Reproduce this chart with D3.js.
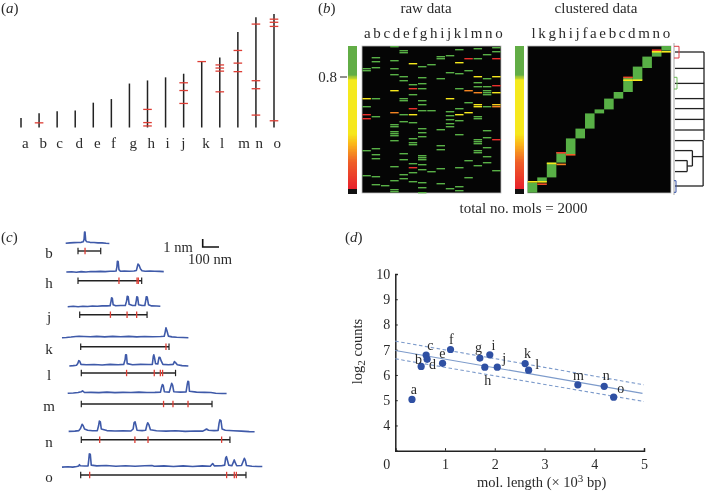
<!DOCTYPE html>
<html><head><meta charset="utf-8">
<style>
html,body{margin:0;padding:0;background:#fff}
svg{display:block;filter:blur(.35px)}
text{font-family:"Liberation Serif",serif;fill:#2a2a2a}
</style></head><body>
<svg id="c" width="705" height="494"></svg>
<script src="https://cdnjs.cloudflare.com/ajax/libs/d3/7.8.5/d3.min.js"></script>
<script>
// ---------- data ----------
const categories = ["a","b","c","d","e","f","g","h","i","j","k","l","m","n","o"];
// (a) molecule length (kb) and restriction sites
const molLengths = [.37,.55,.63,.66,.96,1.1,1.7,1.82,1.94,2.08,2.57,2.71,3.69,4.26,4.39];
const molSites = [[],[.18],[],[],[],[],[],[.7,.19,.06],[],[1.73,1.43,.93],[2.55],[2.42,2.3,2.18,1.38],[2.98,2.49,2.16],[4.0,1.81,1.5,.48],[4.19,4.07,3.91,.26]];
// (b) raw data: rows with high correlation per category
const rawHigh = [
 [11,12,30,52,64.5],
 [5.5,7.5,10.5,26,35,51,54,56,65,69],
 [69.5],
 [0,7,11,14,39,40,42.5,43.5,44.5,47,60,67,71.5,72.5],
 [2,3,15,17,26,27,34,37.5,53.5,56.5,64,66],
 [19,24,38,46,48,49,58.5,63,67.5],
 [10,15.5,18.5,21,27,29,32,41,43,45,54.5,55.5,56.5,59,61.5,68,70.5,73],
 [9,32,62.5],
 [5,6,16,41.5,49.5,51.5,61,68.5],
 [4.5,13,32.5,34.5,36.5,38.5,40,71],
 [1.5,13.5,21,31,37,44,60.5,70,72],
 [12,28,57,65.5],
 [1,6,18,20,35,36,46.5,47.5,48.5,52,53,59.5],
 [4,16,20,22,23,24,30,42,45.5,50.5,55,58],
 [0.5,2.5,62]
];
const rawLow = [[0,26,.5],[0,34,.12],[0,36,.12],[3,22,.5],[3,33,.3],[5,8.5,.5],[5,21,.15],[5,31,.12],[5,34,.55],[5,60.5,.12],[9,26,.5],[10,8,.65],[10,34,.55],[11,6,.12],[11,22,.3],[11,33,.55],[12,15,.5],[12,23,.3],[12,29,.55],[12,30,.5],[14,6,.12],[14,15,.55],[14,19.5,.12],[14,23,.55],[14,29,.4],[14,30,.3],[14,46.5,.12]];
// (b) clustered data
const clusterOrder = ["l","k","g","h","i","j","f","a","e","b","c","d","m","n","o"];
const clusterFrom = [68.3,65.7,58.3,53,46.2,41.3,33.7,31.7,26.3,23,15.7,10.3,5.3,2.3,0];
const clusterTo = [73.3,68,65.7,58.3,54,46.2,41.3,33.7,31.7,26.3,23,17,11,5.3,2.3];
const clusterLow = [[0,67.5,.5],[1,67.5,.5],[1,68.7,.2],[2,58.3,.5],[3,58.8,.3],[3,53,.15],[4,54,.25],[10,15.3,.2],[10,16.7,.55],[11,16.7,.55],[13,1.7,.15],[13,2.5,.55],[14,2.5,.55]];
// dendrogram: leaf [row, merge distance], joins [distance, row, row]
const dendroLeaves = [[3,1],[11.2,1],[18.7,1],[26.3,1],[31.3,1],[36.7,1],[42,1],[47.3,.97],[52.3,.6],[57.3,.42],[62.8,.42],[70,.97]];
const dendroStems = [[55.3,.6,.97],[60,.42,.6]];
const dendroJoins = [[1,3,47],[.97,47.3,70],[.6,52.3,60],[.42,57.3,62.8]];
// (c) traces
const traceNames = ["b","h","j","k","l","m","n","o"];
const barLengths = [142,398,421,552,589,817,929,1033];
const barSites = [[44],[256,369,377],[192,296,356],[533],[283,456,494,508],[514,573,667],[115,335,417,877],[56,912,960,973]];
const traceB = [[-77,0],[-50,.05],[-25,.08],[0,.1],[20,.12],[33,.2],[38,.5],[41,1.4],[44,1.4],[48,.35],[55,.2],[75,.12],[100,.1],[125,.05],[150,.05],[175,0],[196,-.02]];
const traceH = [[-73,0],[-40,.03],[-10,-.03],[20,.05],[50,0],[80,.07],[110,.05],[140,.08],[170,.05],[200,.1],[225,.1],[238,.12],[243,.6],[246,1.33],[251,1.3],[256,.3],[265,.1],[290,.12],[320,.1],[350,.12],[365,.2],[370,.6],[375,1],[382,.85],[390,.4],[400,.15],[420,.1],[450,.12],[480,.1],[510,.08],[536,.05]];
const traceJ = [[-75,0],[-40,.05],[-10,0],[20,.06],[50,.03],[80,.08],[110,.05],[140,.1],[170,.1],[190,.12],[196,.7],[199,1.1],[204,1.05],[209,.25],[225,.12],[255,.15],[285,.15],[293,.7],[297,1.3],[303,1.25],[309,.3],[330,.15],[348,.15],[354,.8],[357,1.25],[362,1.2],[368,.25],[390,.15],[407,.15],[413,.8],[416,1.25],[422,1.2],[430,.25],[450,.1],[480,.08],[504,.05]];
const traceK = [[-117,0],[-90,.03],[-60,.08],[-30,.15],[-10,.18],[20,.15],[60,.12],[100,.17],[150,.1],[200,.16],[250,.12],[300,.16],[350,.1],[400,.15],[450,.12],[500,.15],[522,.18],[528,.7],[533,1.25],[540,.8],[548,.2],[570,.1],[600,.05],[640,.02],[673,0]];
const traceL = [[-75,0],[-50,.05],[-30,.1],[-22,.3],[-16,.67],[-10,.6],[-2,.2],[30,.15],[80,.18],[130,.12],[180,.2],[230,.15],[265,.2],[274,.8],[277,1.4],[282,1.4],[287,.3],[320,.15],[370,.2],[420,.18],[444,.2],[450,1.2],[453,1.4],[458,1],[464,.3],[478,.25],[486,1.1],[492,1.05],[500,.6],[510,.2],[545,.15],[574,.2],[582,.55],[590,.4],[600,.15],[630,.05],[669,0]];
const traceM = [[-85,0],[-50,.03],[-20,.1],[0,.2],[8,.3],[20,.1],[60,.12],[110,.08],[160,.15],[210,.08],[260,.12],[310,.1],[360,.15],[410,.1],[460,.12],[495,.15],[502,.8],[507,1.1],[512,1],[519,.2],[550,.15],[560,.9],[565,1.25],[571,1],[578,.2],[620,.15],[655,.18],[662,1.1],[666,1.5],[671,1.45],[676,.25],[720,.15],[770,.12],[810,.1],[840,0],[880,-.02],[908,-.02]];
const traceN = [[-79,0],[-40,.03],[-15,.1],[-5,.35],[5,.9],[12,.7],[20,.3],[40,.15],[70,.08],[100,.1],[108,.7],[113,1.3],[119,1.2],[125,.3],[160,.1],[210,.05],[260,.08],[310,.05],[324,.3],[330,1.1],[336,1.2],[342,.7],[348,.15],[380,.1],[402,.15],[410,.8],[415,1.08],[422,.85],[432,.2],[470,.08],[530,.03],[590,.08],[650,0],[710,.05],[760,.03],[775,.2],[783,.3],[795,.15],[830,.1],[855,.12],[861,1],[866,1.45],[873,1.35],[880,.3],[900,.15],[950,.08],[1000,.03],[1050,-.03],[1083,-.05]];
const traceO = [[-117,-.05],[-80,0],[-50,-.05],[-25,.02],[-12,.1],[-8,.25],[-2,.12],[25,.08],[46,.1],[50,.8],[54,1.6],[60,1.55],[66,.2],[100,.1],[160,.15],[220,.05],[280,.12],[340,.05],[400,.12],[445,.15],[460,.05],[520,.1],[580,.02],[640,.1],[700,.03],[760,.1],[810,.05],[825,.4],[835,.1],[880,.12],[900,.2],[906,1.1],[911,1.25],[917,.8],[925,.2],[945,.12],[955,.6],[960,.85],[966,.5],[975,.12],[1005,.15],[1018,.8],[1023,1.05],[1029,.8],[1036,.15],[1070,.05],[1110,.02],[1135,.02]];
const allTraces = [traceB,traceH,traceJ,traceK,traceL,traceM,traceN,traceO];
// (d) scatter
const scatterLength = [.335,.52,.62,.64,.95,1.11,1.7,1.8,1.9,2.05,2.61,2.68,3.67,4.2,4.39];
const scatterCounts = [5.03,6.34,6.79,6.62,6.46,7.01,6.67,6.31,6.8,6.31,6.45,6.19,5.61,5.55,5.12];
const fitLine = [[0,6.97],[4.97,5.27]];
const fitUpper = [[0,7.34],[5,5.61]];
const fitLower = [[0,6.64],[5,4.95]];
const xTicks = [0,1,2,3,4,5];
const yTicks = [4,5,6,7,8,9,10];

// ---------- drawing ----------
const svg = d3.select("#c");
const INK="#222", RED="#dd3d34", GREEN="#58b046";
function tag(x,y,l){const t=svg.append("text").attr("x",x).attr("y",y).style("font-size","15px");
  t.append("tspan").text("(");t.append("tspan").style("font-style","italic").text(l);t.append("tspan").text(")");}
function label(x,y,s,anchor="middle",size=15){return svg.append("text").attr("x",x).attr("y",y).attr("text-anchor",anchor).style("font-size",size+"px").text(s);}
tag(1,12.5,"a");tag(318,12.5,"b");tag(1,242,"c");tag(345,242,"d");

// (a)
{
 const x=d3.scalePoint().domain(categories).range([21,274]);
 const y=d3.scaleLinear().domain([0,4.39]).range([127.5,14]);
 const xl=d3.scalePoint().domain(categories).range([25.3,277.3]);
 const nudge={c:-1.7,f:-1.7,i:-1.7,j:-4,k:.7,l:-1.3,m:2.7};
 const g=svg.append("g");
 g.selectAll("line.b").data(categories).join("line").attr("x1",d=>x(d)).attr("x2",d=>x(d))
  .attr("y1",y(0)).attr("y2",(d,i)=>y(molLengths[i])).attr("stroke",INK).attr("stroke-width",1.5);
 categories.forEach((c,i)=>{
  g.selectAll(null).data(molSites[i]).join("line").attr("x1",x(c)-4.3).attr("x2",x(c)+4.3)
   .attr("y1",d=>y(d)).attr("y2",d=>y(d)).attr("stroke",RED).attr("stroke-width",1.3);
  label(xl(c)+(nudge[c]||0),147.5,c);
 });
}

// (b)
const rows=d3.scaleLinear().domain([0,73.5]).range([46,193]);
const colour=d3.scaleLinear()
 .domain([.08,.25,.37,.434,.78,.82,1])
 .range(["#e8222c","#ef5f28","#fbb81a","#f6e71c","#f5ea1e","#62ad46","#62ad46"]);
function colorbar(x0,x1){
 const v=d3.scaleLinear().domain([1,.05]).range([46.3,192.5]);
 const g=svg.append("g").attr("shape-rendering","crispEdges");
 g.selectAll("rect").data(d3.range(1,.05,-.005)).join("rect").attr("x",x0).attr("width",x1-x0)
  .attr("y",d=>v(d)).attr("height",2).attr("fill",d=>d<.075?"#111":colour(d));
}
colorbar(348,357);colorbar(515,524);
label(337,82,"0.8","end",15);
svg.append("line").attr("x1",340).attr("x2",347).attr("y1",77).attr("y2",77).attr("stroke",INK).attr("stroke-width",1);
function heatFrame(x0,x1){
 svg.append("rect").attr("x",x0).attr("y",46).attr("width",x1-x0).attr("height",147).attr("fill","#050505").attr("stroke","#bdbdbd").attr("stroke-width",.8);
}
heatFrame(362,501);heatFrame(527.7,671);
{
 const x=d3.scaleBand().domain(categories).range([362,501]);
 const g=svg.append("g");
 categories.forEach((c,i)=>{
  g.selectAll(null).data(rawHigh[i]).join("rect").attr("x",x(c)+.4).attr("width",x.bandwidth()-.8)
   .attr("y",d=>rows(d)).attr("height",1.4).attr("fill",GREEN);
 });
 g.selectAll(null).data(rawLow).join("rect").attr("x",d=>x(categories[d[0]])+.4).attr("width",x.bandwidth()-.8)
  .attr("y",d=>rows(d[1])).attr("height",1.4).attr("fill",d=>colour(d[2]));
 label(364,38,categories.join(" "),"start").style("word-spacing","-1.1px");
 label(426,12.5,"raw data");
}
{
 const x=d3.scaleBand().domain(clusterOrder).range([527.7,671]);
 const g=svg.append("g");
 g.selectAll(null).data(clusterOrder).join("rect").attr("x",d=>x(d)).attr("width",x.bandwidth())
  .attr("y",(d,i)=>rows(clusterFrom[i])).attr("height",(d,i)=>rows(clusterTo[i])-rows(clusterFrom[i])).attr("fill",GREEN);
 g.selectAll(null).data(clusterLow).join("rect").attr("x",d=>x(clusterOrder[d[0]])).attr("width",x.bandwidth())
  .attr("y",d=>rows(d[1])).attr("height",1.6).attr("fill",d=>colour(d[2]));
 label(531.5,38,clusterOrder.join(" "),"start").style("word-spacing","-1.1px");
 label(596,12.5,"clustered data");
 label(523.5,213,"total no. mols = 2000");
}
// dendrogram
{
 const dx=d3.scaleLinear().domain([0,1]).range([675,704]);
 const g=svg.append("g").attr("stroke","#222").attr("stroke-width",1.3).attr("fill","none");
 svg.append("line").attr("x1",674).attr("x2",674).attr("y1",43).attr("y2",195).attr("stroke","#a8a8a8").attr("stroke-width",1);
 g.selectAll("line.l").data(dendroLeaves).join("line").attr("x1",dx(0)).attr("x2",d=>dx(d[1])).attr("y1",d=>rows(d[0])).attr("y2",d=>rows(d[0]));
 g.selectAll("line.s").data(dendroStems).join("line").attr("class","s").attr("x1",d=>dx(d[1])).attr("x2",d=>dx(d[2])).attr("y1",d=>rows(d[0])).attr("y2",d=>rows(d[0]));
 g.selectAll("line.j").data(dendroJoins).join("line").attr("class","j").attr("x1",d=>dx(d[0])).attr("x2",d=>dx(d[0])).attr("y1",d=>rows(d[1])).attr("y2",d=>rows(d[2]));
 [[46.3,58,679,"#dd3d44"],[77.3,89,677,"#6cbb58"],[180.7,192.3,676,"#3a55a8"]].forEach(b=>{
  svg.append("path").attr("d",`M674,${b[0]}H${b[2]}V${b[1]}H674`).attr("fill","none").attr("stroke",b[3]).attr("stroke-width",1);
 });
}

// (c)
{
 const x=d3.scaleLinear().domain([0,1000]).range([0,160]);
 const h=d3.scaleLinear().domain([0,1]).range([0,-8]);
 const barY=[251,280.7,314.7,346.7,373,404,439.7,475];
 const baseOff=[-7.7,-8.7,-8,-9,-7,-10.7,-8.3,-8.3];
 const startX=[78,78,79.7,80.7,81.3,81.3,81.3,80.7];
 const line=d3.line().x(d=>x(d[0])).y(d=>h(d[1]));
 traceNames.forEach((n,i)=>{
  const g=svg.append("g").attr("transform",`translate(${startX[i]},${barY[i]})`);
  g.append("path").attr("transform",`translate(0,${baseOff[i]})`).attr("d",line(allTraces[i])).attr("fill","none").attr("stroke","#3f5aa9").attr("stroke-width",1.6).attr("stroke-linejoin","round");
  g.append("line").attr("x1",0).attr("x2",x(barLengths[i])).attr("stroke",INK).attr("stroke-width",1.4);
  [0,barLengths[i]].forEach(v=>g.append("line").attr("x1",x(v)).attr("x2",x(v)).attr("y1",-3.2).attr("y2",3.2).attr("stroke",INK).attr("stroke-width",1.2));
  g.selectAll("line.r").data(barSites[i]).join("line").attr("class","r").attr("x1",d=>x(d)).attr("x2",d=>x(d)).attr("y1",-3.2).attr("y2",3.2).attr("stroke",RED).attr("stroke-width",1.3);
  label(49,barY[i]+7,n);
 });
 label(178,251.7,"1 nm","middle",14.5);
 label(210,264,"100 nm","middle",14.5);
 svg.append("path").attr("d","M202.7,239V247H219").attr("fill","none").attr("stroke","#111").attr("stroke-width",1.6);
}

// (d)
{
 const x=d3.scaleLinear().domain([0,5]).range([395.3,644]);
 const y=d3.scaleLinear().domain([3,10]).range([450.7,274]);
 const gx=svg.append("g").attr("transform","translate(0,450.7)").call(d3.axisBottom(x).tickValues(xTicks).tickSize(-2.5).tickPadding(8).tickFormat(d3.format("d")));
 const gy=svg.append("g").attr("transform","translate(395.3,0)").call(d3.axisLeft(y).tickValues(yTicks).tickSize(-2.5).tickPadding(5).tickFormat(d3.format("d")));
 [gx,gy].forEach(g=>{
  g.selectAll("text").style("font-family",'"Liberation Serif",serif').style("font-size","14px").attr("fill","#2a2a2a");
  g.select(".domain").attr("stroke","#222").attr("stroke-width",1.5);
  g.selectAll(".tick line").attr("stroke","#222").attr("stroke-width",1);
 });
 gx.selectAll(".tick text").filter(d=>d===0).attr("dx",-9);
 const line=d3.line().x(d=>x(d[0])).y(d=>y(d[1]));
 svg.append("path").attr("d",line(fitLine)).attr("fill","none").attr("stroke","#7d9bcb").attr("stroke-width",1.2);
 [fitUpper,fitLower].forEach(f=>svg.append("path").attr("d",line(f)).attr("fill","none").attr("stroke","#7d9bcb").attr("stroke-width",1.1).attr("stroke-dasharray","3.5,2.5"));
 svg.append("g").selectAll("circle").data(categories).join("circle")
  .attr("cx",(d,i)=>x(scatterLength[i])).attr("cy",(d,i)=>y(scatterCounts[i])).attr("r",3.6).attr("fill","#2f50a3");
 const off={a:[2,-5.7],b:[-2.7,-2],c:[4.3,-5],d:[5.3,9.7],e:[-.3,-5.7],f:[.7,-5.3],g:[-1.3,-6.3],h:[3,18],i:[3.7,-5],j:[7,-4.3],k:[2.3,-6],l:[8.7,-1],m:[.7,-5.3],n:[2,-6],o:[7,-3.7]};
 categories.forEach((c,i)=>label(x(scatterLength[i])+off[c][0],y(scatterCounts[i])+off[c][1],c,"middle",14));
 const xl=label(541.7,487,"mol. length (× 10","middle",14.5);
 xl.append("tspan").attr("dy",-5).style("font-size","11px").text("3");
 xl.append("tspan").attr("dy",5).text(" bp)");
 const yl=svg.append("text").attr("transform","translate(361.5,351.5) rotate(-90)").attr("text-anchor","middle").style("font-size","14.5px").text("log");
 yl.append("tspan").attr("dy",3).style("font-size","11px").text("2");
 yl.append("tspan").attr("dy",-3).text(" counts");
}
</script>
</body></html>
